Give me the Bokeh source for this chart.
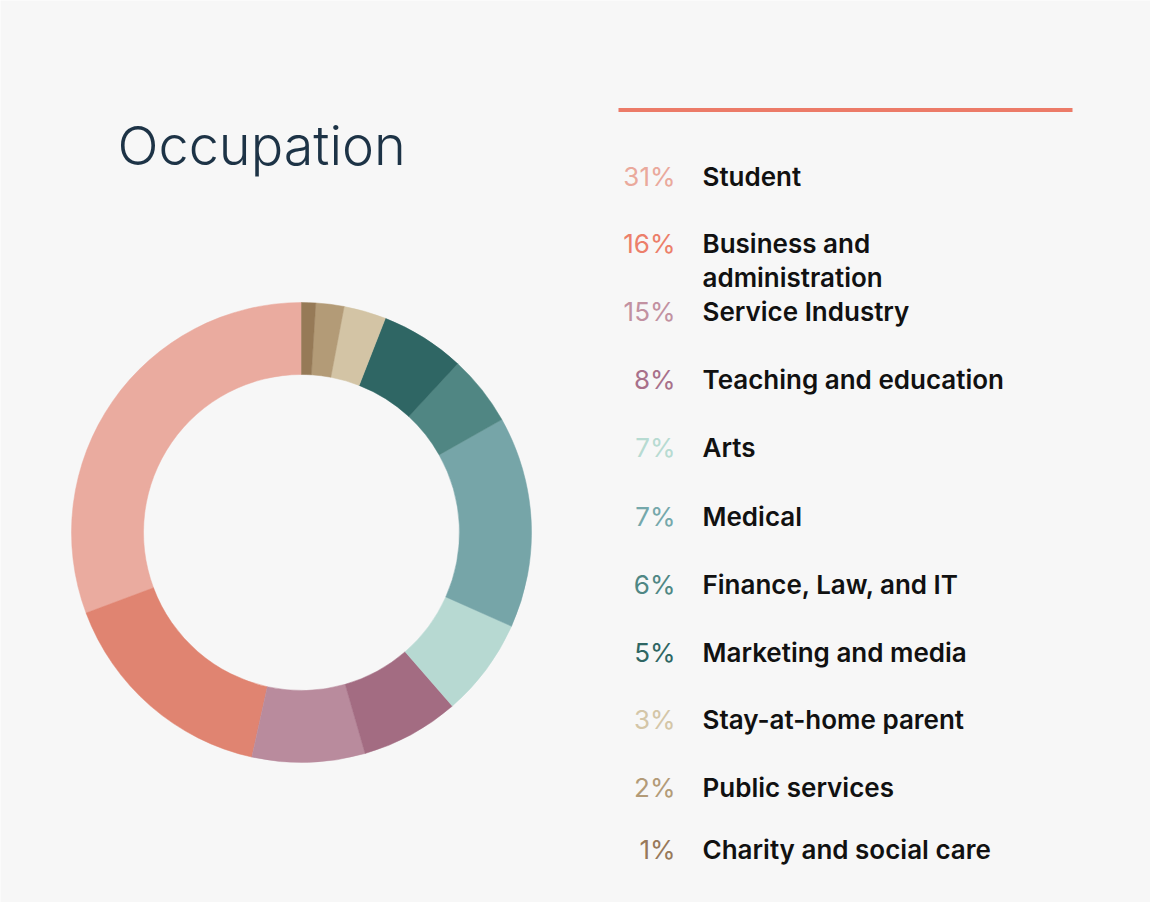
import numpy as np
from bokeh.plotting import figure
from bokeh.models import ColumnDataSource, Range1d
from bokeh.core.properties import value
from bokeh.embed import file_html
from bokeh.resources import INLINE

# ---------------- data ----------------
title = "Occupation"
categories = ["Student", "Business and\nadministration", "Service Industry",
              "Teaching and education", "Arts", "Medical", "Finance, Law, and IT",
              "Marketing and media", "Stay-at-home parent", "Public services",
              "Charity and social care"]
percent_labels = ["31%", "16%", "15%", "8%", "7%", "7%", "6%", "5%", "3%", "2%", "1%"]
legend_colors = ["#eaa99c", "#ec7f6a", "#c291a1", "#a8708a", "#b7dbd2", "#75a8ab",
                 "#4f8784", "#2e6663", "#d4c6a7", "#b39b77", "#98795a"]
# ring slices as drawn, counter-clockwise from 12 o'clock
slice_values = [31, 16, 8, 7, 7, 15, 5, 6, 3, 2, 1]
slice_colors = ["#eaab9f", "#e08471", "#b98b9d", "#a36c82", "#b7d9d2", "#76a5a8",
                "#508683", "#2f6664", "#d3c4a5", "#b39b77", "#967a57"]

# ---------------- layout ----------------
W, H = 1150, 902
BG = "#f7f7f7"

def sy(y_screen):
    return 910 - y_screen

def sx(x_screen):
    return x_screen - 8

p = figure(width=W, height=H, x_range=Range1d(0, W), y_range=Range1d(0, H),
           output_backend="svg", toolbar_location=None,
           x_axis_location=None, y_axis_location=None, min_border=0)
p.grid.visible = False
p.outline_line_color = None
p.background_fill_color = BG
p.border_fill_color = BG

# donut
vals = np.array(slice_values, dtype=float)
cum = np.concatenate([[0], np.cumsum(vals)])
total = vals.sum()
starts = np.pi / 2 + 2 * np.pi * cum[:-1] / total
ends = np.pi / 2 + 2 * np.pi * cum[1:] / total
ring = ColumnDataSource(dict(start=starts, end=ends, color=slice_colors))
p.annular_wedge(x=sx(309), y=sy(540), inner_radius=158, outer_radius=230,
                start_angle="start", end_angle="end", direction="anticlock",
                fill_color="color", line_color="color", line_width=0.5,
                source=ring)

# title
p.text(x=[sx(125)], y=[sy(153)], text=[title], text_font=value("Inter Light, Inter"),
       text_font_size="54px", text_color="#1d3346", text_baseline="alphabetic",
       text_align="left")

# top rule
p.segment(x0=[sx(626)], y0=[sy(117.5)], x1=[sx(1080)], y1=[sy(117.5)],
          line_color="#ec7b68", line_width=4)

# legend rows
baselines = [184, 251, 319, 387, 455, 524, 592, 660, 727, 795, 857]
LINE_STEP = 34
leg = ColumnDataSource(dict(
    xp=[sx(683)] * len(categories),
    y=[sy(b) for b in baselines],
    pct=percent_labels, color=legend_colors))
p.text(x="xp", y="y", text="pct", text_color="color", source=leg,
       text_font=value("Inter"), text_font_size="26px",
       text_align="right", text_baseline="alphabetic")

lx, ly, lt = [], [], []
for cat, b in zip(categories, baselines):
    for k, line in enumerate(cat.split("\n")):
        lx.append(sx(710))
        ly.append(sy(b + k * LINE_STEP))
        lt.append(line)
labs = ColumnDataSource(dict(x=lx, y=ly, t=lt))
p.text(x="x", y="y", text="t", text_color="#111111", source=labs,
       text_font=value("Inter SemiBold, Inter"), text_font_size="26px",
       text_align="left", text_baseline="alphabetic")

open("out.html", "w").write(file_html(p, INLINE))
